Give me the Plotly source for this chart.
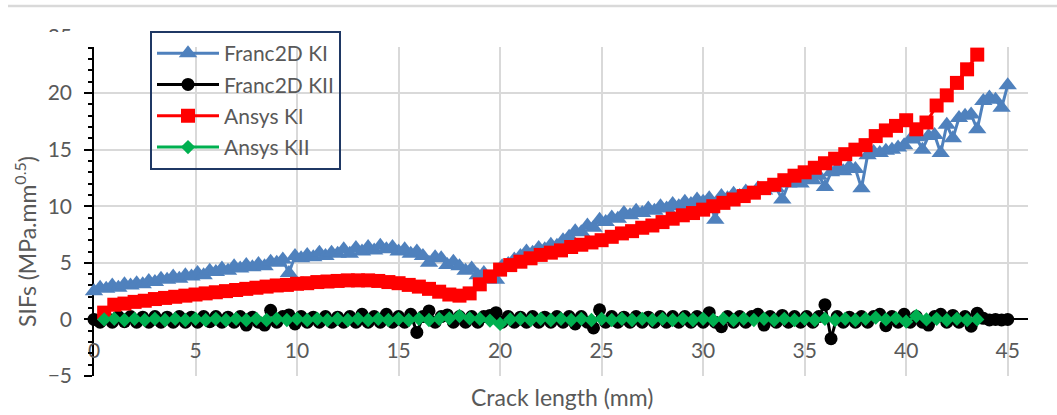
import plotly.graph_objects as go

# ---------------- data ----------------
franc_x = [
    0.0, 0.3, 0.6, 0.9, 1.2, 1.5, 1.8, 2.1, 2.4, 2.7,
    3.0, 3.3, 3.6, 3.9, 4.2, 4.5, 4.8, 5.1, 5.4, 5.7,
    6.0, 6.3, 6.6, 6.9, 7.2, 7.5, 7.8, 8.1, 8.4, 8.7,
    9.0, 9.3, 9.6, 9.9, 10.2, 10.5, 10.8, 11.1, 11.4, 11.7,
    12.0, 12.3, 12.6, 12.9, 13.2, 13.5, 13.8, 14.1, 14.4, 14.7,
    15.0, 15.3, 15.6, 15.9, 16.2, 16.5, 16.8, 17.1, 17.4, 17.7,
    18.0, 18.3, 18.6, 18.9, 19.2, 19.5, 19.8, 20.1, 20.4, 20.7,
    21.0, 21.3, 21.6, 21.9, 22.2, 22.5, 22.8, 23.1, 23.4, 23.7,
    24.0, 24.3, 24.6, 24.9, 25.2, 25.5, 25.8, 26.1, 26.4, 26.7,
    27.0, 27.3, 27.6, 27.9, 28.2, 28.5, 28.8, 29.1, 29.4, 29.7,
    30.0, 30.3, 30.6, 30.9, 31.2, 31.5, 31.8, 32.1, 32.4, 32.7,
    33.0, 33.3, 33.6, 33.9, 34.2, 34.5, 34.8, 35.1, 35.4, 35.7,
    36.0, 36.3, 36.6, 36.9, 37.2, 37.5, 37.8, 38.1, 38.4, 38.7,
    39.0, 39.3, 39.6, 39.9, 40.2, 40.5, 40.8, 41.1, 41.4, 41.7,
    42.0, 42.3, 42.6, 42.9, 43.2, 43.5, 43.8, 44.1, 44.4, 44.7,
    45.0,
]
franc_ki = [
    2.5, 2.8, 2.7, 3.0, 2.8, 3.1, 3.0, 3.2, 3.1, 3.4,
    3.3, 3.6, 3.5, 3.8, 3.6, 3.9, 3.8, 4.1, 3.9, 4.3,
    4.2, 4.5, 4.3, 4.7, 4.5, 4.8, 4.6, 4.9, 4.7, 5.1,
    5.0, 5.3, 4.1, 5.6, 5.4, 5.7, 5.5, 5.9, 5.6, 5.9,
    5.8, 6.2, 5.8, 6.3, 6.0, 6.4, 6.1, 6.5, 6.2, 6.4,
    6.0, 6.2, 5.8, 6.0, 5.6, 5.0, 5.5, 5.4, 4.8, 5.1,
    4.7, 4.3, 4.5, 3.9, 4.1, 3.6, 3.5, 4.7, 4.9, 5.3,
    5.6, 6.0, 5.9, 6.3, 6.2, 6.6, 6.5, 7.0, 7.3, 7.8,
    7.7, 8.3, 8.1, 8.8, 8.6, 9.0, 8.9, 9.4, 9.2, 9.6,
    9.4, 9.8, 9.6, 10.0, 9.8, 10.2, 10.0, 10.4, 10.2, 10.6,
    10.4, 10.7, 8.8, 10.9, 10.7, 11.1, 10.9, 11.3, 11.1, 11.6,
    11.4, 11.8, 11.6, 10.6, 12.0, 12.2, 12.0, 12.5, 12.3, 12.7,
    11.7, 13.0, 13.3, 13.1, 13.5, 13.3, 11.6, 14.5, 14.8, 14.7,
    14.9, 15.0, 15.2, 15.4, 15.9, 16.1, 15.0, 16.2, 16.3, 14.7,
    17.2, 16.0, 17.8, 18.0, 18.1, 16.8, 19.3, 19.6, 19.4, 18.7,
    20.7,
]
franc_kii = [
    0.0, -0.25, 0.2, -0.25, 0.25, -0.2, 0.25, -0.25, 0.2, -0.25,
    0.25, -0.25, 0.2, -0.25, 0.25, -0.25, 0.2, -0.25, 0.25, -0.2,
    0.25, -0.25, 0.2, -0.25, 0.25, -0.5, 0.2, -0.25, -0.5, 0.8,
    -0.25, 0.25, 0.4, -0.4, 0.25, -0.25, 0.2, -0.25, 0.25, -0.25,
    0.2, -0.25, 0.25, -0.25, 0.45, -0.25, 0.25, -0.25, 0.45, -0.25,
    0.25, -0.25, 0.45, -1.15, 0.25, 0.75, -0.25, 0.25, 0.4, -0.25,
    0.25, -0.25, 0.25, -0.25, 0.25, 0.35, 0.6, -0.25, 0.25, -0.25,
    0.2, -0.25, 0.25, -0.25, 0.2, -0.25, 0.25, -0.25, 0.25, -0.4,
    0.25, -0.25, -0.75, 0.85, -0.25, 0.25, -0.25, 0.2, -0.25, 0.25,
    -0.25, 0.2, -0.25, 0.25, -0.25, 0.25, -0.25, 0.25, -0.25, 0.25,
    -0.25, 0.6, -0.25, -0.65, 0.25, -0.25, 0.25, -0.25, 0.25, 0.45,
    -0.5, 0.25, -0.25, 0.35, -0.25, 0.25, -0.25, 0.25, -0.25, 0.25,
    1.3, -1.7, 0.25, -0.25, 0.2, -0.25, 0.25, -0.25, 0.25, 0.45,
    -0.55, 0.25, -0.25, 0.45, -0.25, 0.25, -0.25, -0.5, 0.25, 0.45,
    -0.25, 0.35, -0.25, 0.25, -0.6, 0.55, 0.1, -0.05, 0.0, -0.05,
    0.0,
]
ansys_x = [
    0.5, 1.0, 1.5, 2.0, 2.5, 3.0, 3.5, 4.0, 4.5, 5.0,
    5.5, 6.0, 6.5, 7.0, 7.5, 8.0, 8.5, 9.0, 9.5, 10.0,
    10.5, 11.0, 11.5, 12.0, 12.5, 13.0, 13.5, 14.0, 14.5, 15.0,
    15.5, 16.0, 16.5, 17.0, 17.5, 18.0, 18.5, 19.0, 19.5, 20.0,
    20.5, 21.0, 21.5, 22.0, 22.5, 23.0, 23.5, 24.0, 24.5, 25.0,
    25.5, 26.0, 26.5, 27.0, 27.5, 28.0, 28.5, 29.0, 29.5, 30.0,
    30.5, 31.0, 31.5, 32.0, 32.5, 33.0, 33.5, 34.0, 34.5, 35.0,
    35.5, 36.0, 36.5, 37.0, 37.5, 38.0, 38.5, 39.0, 39.5, 40.0,
    40.5, 41.0, 41.5, 42.0, 42.5, 43.0, 43.5,
]
ansys_ki = [
    0.6, 1.3, 1.4, 1.55, 1.65, 1.8, 1.9, 2.0, 2.1, 2.2,
    2.3, 2.4, 2.5, 2.6, 2.7, 2.8, 2.9, 3.0, 3.05, 3.15,
    3.2, 3.3, 3.35, 3.4, 3.45, 3.45, 3.45, 3.4, 3.3, 3.2,
    3.05, 2.9, 2.7, 2.45, 2.2, 2.1, 2.3, 3.1, 3.8, 4.4,
    4.8, 5.1, 5.4, 5.7, 5.9, 6.1, 6.4, 6.6, 6.8, 7.0,
    7.3, 7.6, 7.8, 8.1, 8.3, 8.6, 8.9, 9.2, 9.4, 9.7,
    10.0, 10.3, 10.6, 10.9, 11.2, 11.6, 11.9, 12.3, 12.7, 13.0,
    13.4, 13.8, 14.2, 14.6, 15.0, 15.4, 16.2, 16.7, 17.1, 17.6,
    16.8, 17.4, 18.9, 19.8, 20.9, 22.1, 23.4,
]
ansys_kii = [
    0.0, 0.05, -0.05, 0.05, -0.05, 0.05, -0.05, 0.05, -0.05, 0.05,
    -0.05, 0.05, -0.05, 0.05, -0.05, 0.05, -0.05, 0.05, -0.05, 0.05,
    -0.05, 0.05, -0.05, 0.05, -0.05, 0.05, -0.05, 0.05, -0.05, 0.05,
    -0.05, 0.05, -0.05, 0.05, 0.1, 0.3, 0.1, 0.05, -0.1, -0.4,
    0.0, 0.05, -0.05, 0.05, -0.05, 0.05, -0.05, 0.05, -0.05, 0.05,
    -0.05, 0.05, -0.05, 0.05, -0.05, 0.05, -0.05, 0.05, -0.05, 0.05,
    -0.05, 0.05, -0.05, 0.05, -0.05, 0.05, -0.05, 0.05, -0.05, 0.05,
    -0.05, 0.05, -0.05, 0.05, -0.05, 0.05, 0.15, 0.0, 0.1, -0.2,
    0.3, 0.0, 0.05, -0.05, 0.05, -0.05, 0.0,
]
x_tick_vals = [0, 5, 10, 15, 20, 25, 30, 35, 40, 45]
y_tick_vals = [-5, 0, 5, 10, 15, 20, 25]
x_range = [0, 46]
y_range = [-5, 25]

# ---------------- figure ----------------
W, H = 1057, 415
GRAY = "#595959"
GRID = "#d9d9d9"
FONT = "Lato"

def px_x(p):
    return p / W

def px_y(p):
    return 1 - p / H

x_dom = [px_x(94), px_x(1028)]
y_dom = [px_y(376), px_y(36.5)]
x_axis_pos = y_dom[0] + (0 - y_range[0]) / (y_range[1] - y_range[0]) * (y_dom[1] - y_dom[0])

fig = go.Figure()
fig.add_trace(go.Scatter(
    x=franc_x, y=franc_ki, name="Franc2D KI", mode="lines+markers",
    line=dict(color="#4f81bd", width=3),
    marker=dict(symbol="triangle-up", size=16, color="#4f81bd"),
    cliponaxis=False, legendgroup="a"))
fig.add_trace(go.Scatter(
    x=franc_x, y=franc_kii, name="Franc2D KII", mode="lines+markers",
    line=dict(color="#000000", width=3),
    marker=dict(symbol="circle", size=13, color="#000000"),
    cliponaxis=False, legendgroup="b"))
fig.add_trace(go.Scatter(
    x=ansys_x, y=ansys_ki, name="Ansys KI", mode="lines+markers",
    line=dict(color="#ff0000", width=3),
    marker=dict(symbol="square", size=14, color="#ff0000"),
    cliponaxis=False, legendgroup="c"))
fig.add_trace(go.Scatter(
    x=ansys_x, y=ansys_kii, name="Ansys KII", mode="lines+markers",
    line=dict(color="#00b050", width=3),
    marker=dict(symbol="diamond", size=11, color="#00b050"),
    cliponaxis=False, legendgroup="d"))

fig.update_layout(
    width=W, height=H,
    margin=dict(l=0, r=0, t=0, b=0, pad=0, autoexpand=False),
    paper_bgcolor="white", plot_bgcolor="white",
    font=dict(family=FONT, color=GRAY, size=21),
    showlegend=True,
    legend=dict(
        x=px_x(150), y=px_y(31), xanchor="left", yanchor="top",
        bgcolor="rgba(0,0,0,0)", bordercolor="#1f3864", borderwidth=2,
        font=dict(family=FONT, size=21, color=GRAY),
        itemwidth=62, traceorder="grouped", tracegroupgap=1,
    ),
    xaxis=dict(
        domain=x_dom, range=x_range, anchor="free", position=x_axis_pos,
        tickmode="array", tickvals=x_tick_vals,
        showgrid=True, gridcolor=GRID, gridwidth=1.5,
        showline=True, linecolor="black", linewidth=1.5,
        ticks="outside", ticklen=5, tickcolor="black", tickwidth=1.5,
        ticklabelstandoff=8, zeroline=False, layer="below traces",
        tickfont=dict(family=FONT, size=21, color=GRAY),
    ),
    yaxis=dict(
        domain=y_dom, range=y_range,
        tickmode="array", tickvals=y_tick_vals,
        showgrid=True, gridcolor=GRID, gridwidth=1.5,
        showline=True, linecolor="black", linewidth=1.5,
        ticks="outside", ticklen=8, tickcolor="black", tickwidth=1.5,
        minor=dict(dtick=1, ticks="outside", ticklen=4, tickcolor="black", tickwidth=1.5, showgrid=False),
        ticklabelstandoff=8, zeroline=False, layer="below traces",
        tickfont=dict(family=FONT, size=21, color=GRAY),
    ),
    shapes=[
        dict(type="rect", xref="paper", yref="paper", x0=0, x1=1,
             y0=px_y(47), y1=px_y(32), fillcolor="white", line=dict(width=0), layer="above"),
        dict(type="line", xref="paper", yref="paper", x0=px_x(8), x1=1,
             y0=px_y(6), y1=px_y(6), line=dict(color=GRID, width=2.5), layer="above"),
    ],
    annotations=[
        dict(text="Crack length (mm)", xref="paper", yref="paper",
             x=px_x(562), y=px_y(397), xanchor="center", yanchor="middle",
             showarrow=False, font=dict(family=FONT, size=23, color=GRAY)),
        dict(text="SIFs (MPa.mm<sup>0.5</sup>)", xref="paper", yref="paper",
             x=px_x(25), y=px_y(242), xanchor="center", yanchor="middle",
             showarrow=False, textangle=-90,
             font=dict(family=FONT, size=23, color=GRAY)),
    ],
)

fig.write_html("out.html")
